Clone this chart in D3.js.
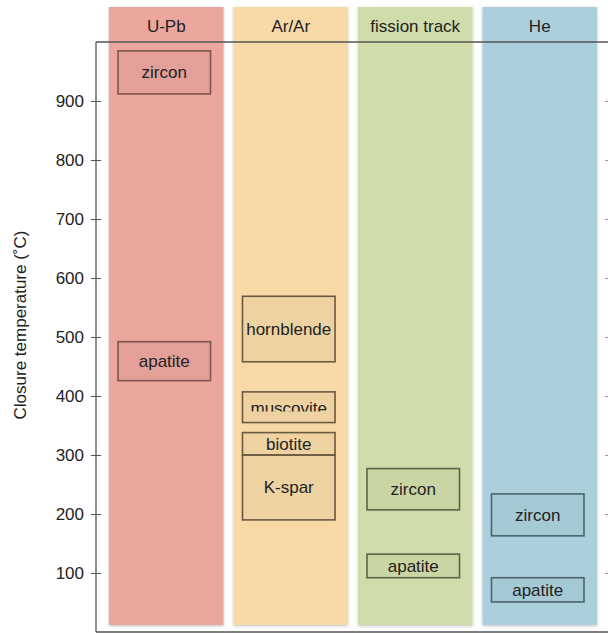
<!DOCTYPE html>
<html>
<head>
<meta charset="utf-8">
<script src="https://cdn.jsdelivr.net/npm/d3@7"></script>
<style>
  body { margin: 0; background: #fff; }
  text { font-family: "Liberation Sans", Arial, sans-serif; fill: #222; }
</style>
</head>
<body>
<div id="chart"></div>
<script>
// dating methods (columns)
const methods = ["U-Pb", "Ar/Ar", "fission track", "He"];

// closure temperature ranges (deg C)
const boxMethod = ["U-Pb", "U-Pb", "Ar/Ar", "Ar/Ar", "Ar/Ar", "Ar/Ar", "fission track", "fission track", "He", "He"];
const boxMineral = ["zircon", "apatite", "hornblende", "muscovite", "biotite", "K-spar", "zircon", "apatite", "zircon", "apatite"];
const boxLow = [912, 426, 458, 355, 300, 190, 207, 92, 163, 51];
const boxHigh = [985, 492, 569, 407, 338, 300, 277, 132, 234, 92];

const tickValues = [100, 200, 300, 400, 500, 600, 700, 800, 900];

const bandColor = {"U-Pb": "#eba69d", "Ar/Ar": "#f6d9a7", "fission track": "#d0dca9", "He": "#abd0dc"};
const boxStroke = {"U-Pb": "#7d5550", "Ar/Ar": "#6a5a40", "fission track": "#5a6248", "He": "#4b646c"};

const width = 608, height = 633;
const margin = {top: 42, left: 96, bottom: 1};
const fs = 17;

const svg = d3.select("#chart").append("svg")
    .attr("width", width)
    .attr("height", height);

const y = d3.scaleLinear()
    .domain([0, 1000])
    .range([height - margin.bottom, margin.top]);

const x = d3.scaleBand()
    .domain(methods)
    .range([109, 597])
    .paddingInner(0.08);

const defs = svg.append("defs");
defs.append("filter").attr("id", "shadow")
    .attr("x", "-10%").attr("y", "-5%").attr("width", "120%").attr("height", "110%")
    .append("feDropShadow")
    .attr("dx", 0).attr("dy", 1).attr("stdDeviation", 1.5)
    .attr("flood-color", "#000").attr("flood-opacity", 0.25);

// coloured columns
svg.append("g").selectAll("rect")
    .data(methods)
    .join("rect")
    .attr("x", d => x(d))
    .attr("y", 7)
    .attr("width", x.bandwidth())
    .attr("height", y(0) - 7 - 7)
    .attr("fill", d => bandColor[d])
    .attr("filter", "url(#shadow)");

svg.append("g").selectAll("text")
    .data(methods)
    .join("text")
    .attr("x", d => x(d) + x.bandwidth() / 2)
    .attr("y", 32)
    .attr("text-anchor", "middle")
    .attr("font-size", fs)
    .text(d => d);

// frame
const frame = svg.append("g").attr("stroke", "#555").attr("stroke-width", 1.3);
frame.append("line").attr("x1", margin.left).attr("x2", width).attr("y1", y(1000)).attr("y2", y(1000));
frame.append("line").attr("x1", margin.left).attr("x2", margin.left).attr("y1", y(1000)).attr("y2", y(0));
frame.append("line").attr("x1", margin.left).attr("x2", width).attr("y1", y(0)).attr("y2", y(0));

// left axis, ticks crossing the line
const yAxis = svg.append("g")
    .attr("transform", `translate(${margin.left + 5},0)`)
    .call(d3.axisLeft(y).tickValues(tickValues).tickSize(10).tickPadding(7));
yAxis.select(".domain").remove();
yAxis.selectAll("line").attr("stroke", "#555");
yAxis.selectAll("text").attr("font-size", fs).attr("fill", "#333")
    .attr("font-family", "Liberation Sans, Arial, sans-serif");

// faint right ticks
const yAxisR = svg.append("g")
    .attr("transform", `translate(${width + 1},0)`)
    .call(d3.axisLeft(y).tickValues(tickValues).tickSize(4).tickFormat(""));
yAxisR.select(".domain").remove();
yAxisR.selectAll("line").attr("stroke", "#999");

svg.append("text")
    .attr("transform", `translate(26,${(y(0) + y(1000)) / 2 - 12}) rotate(-90)`)
    .attr("text-anchor", "middle")
    .attr("font-size", fs)
    .attr("fill", "#333")
    .text("Closure temperature (˚C)");

// mineral boxes
const boxes = boxMineral.map((m, i) => ({
  method: boxMethod[i], mineral: m, low: boxLow[i], high: boxHigh[i], id: i
}));

const bx = d => x(d.method) + 9;
const bw = () => x.bandwidth() - 22;

boxes.forEach(d => {
  defs.append("clipPath").attr("id", "clip" + d.id)
    .append("rect")
    .attr("x", bx(d))
    .attr("y", y(d.high))
    .attr("width", bw())
    .attr("height", y(d.low) - y(d.high) - (d.mineral === "muscovite" ? 11 : 0));
});

const bg = svg.append("g").selectAll("g")
    .data(boxes)
    .join("g");

bg.append("rect")
    .attr("x", bx)
    .attr("y", d => y(d.high))
    .attr("width", bw)
    .attr("height", d => y(d.low) - y(d.high))
    .attr("fill", "rgba(0,0,0,0.03)")
    .attr("stroke", d => boxStroke[d.method])
    .attr("stroke-width", 1.6);

bg.append("text")
    .attr("clip-path", d => `url(#clip${d.id})`)
    .attr("x", d => bx(d) + bw() / 2)
    .attr("y", d => d.mineral === "muscovite" ? y(d.low) - 9 : (y(d.low) + y(d.high)) / 2 + 6)
    .attr("text-anchor", "middle")
    .attr("font-size", fs)
    .text(d => d.mineral);
</script>
</body>
</html>
